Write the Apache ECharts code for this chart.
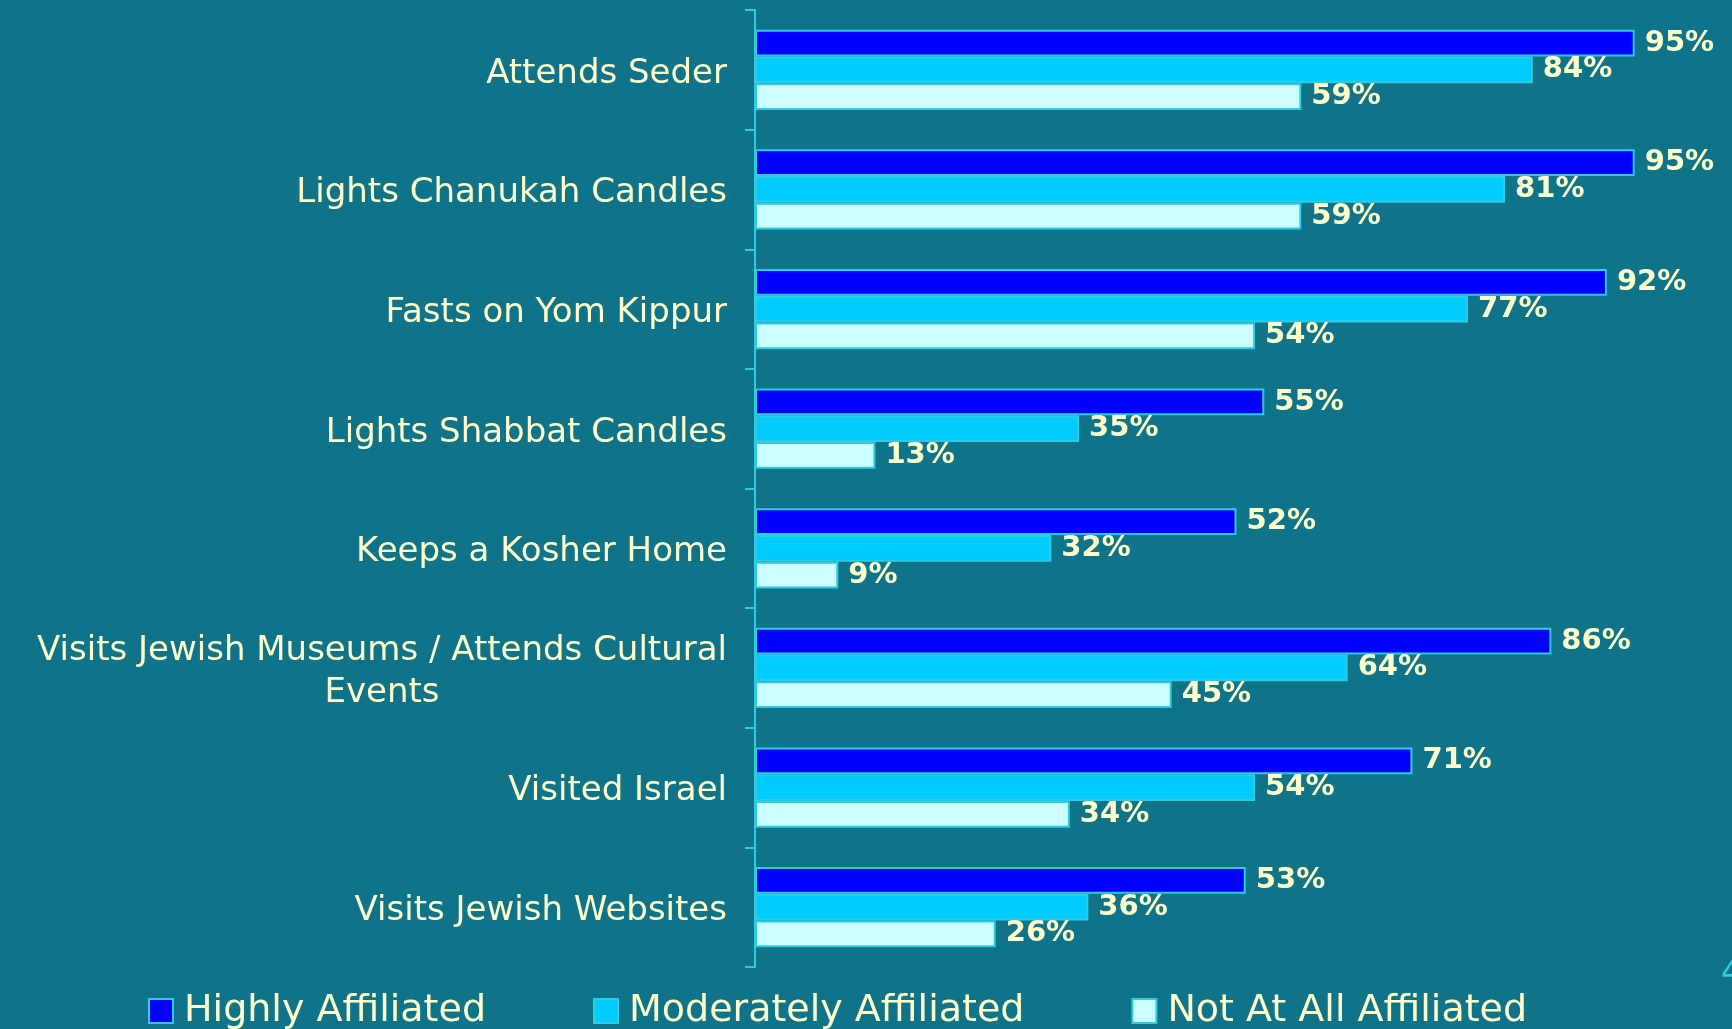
<!DOCTYPE html>
<html>
<head>
<meta charset="utf-8">
<script src="https://cdn.jsdelivr.net/npm/echarts@6/dist/echarts.min.js"></script>
<style>
  html, body { margin: 0; padding: 0; background: #0f7489; }
  #chart { width: 1732px; height: 1029px; }
</style>
</head>
<body>
<div id="chart"></div>
<script>
// categories, top to bottom
var categories = [
    'Attends Seder',
    'Lights Chanukah Candles',
    'Fasts on Yom Kippur',
    'Lights Shabbat Candles',
    'Keeps a Kosher Home',
    'Visits Jewish Museums / Attends Cultural Events',
    'Visited Israel',
    'Visits Jewish Websites'
];
var seriesNames = ['Highly Affiliated', 'Moderately Affiliated', 'Not At All Affiliated'];
var highly = [95, 95, 92, 55, 52, 86, 71, 53];
var moderately = [84, 81, 77, 35, 32, 64, 54, 36];
var notAtAll = [59, 59, 54, 13, 9, 45, 34, 26];

var txtColor = '#ffffcc';
var lineColor = '#2ecbe3';
var font = 'DejaVu Sans';

// break long category names onto two lines, centred
function wrapLabel(value) {
    if (value.length <= 40) return value;
    var words = value.split(' ');
    var lines = [], cur = '';
    words.forEach(function (w) {
        if ((cur + ' ' + w).trim().length > 40) { lines.push(cur); cur = w; }
        else cur = (cur + ' ' + w).trim();
    });
    lines.push(cur);
    return lines.map(function (l) { return '{c|' + l + '}'; }).join('\n');
}

function makeSeries(name, data, color) {
    return {
        name: name,
        type: 'bar',
        data: data,
        barGap: '0%',
        barCategoryGap: '33%',
        itemStyle: { color: color, borderColor: lineColor, borderWidth: 2 },
        label: {
            show: true,
            position: 'right',
            distance: 10,
            formatter: '{c}%',
            color: txtColor,
            fontFamily: font,
            fontWeight: 'bold',
            fontSize: 29
        }
    };
}

var chart = echarts.init(document.getElementById('chart'));
var option = {
    backgroundColor: '#0f7489',
    animation: false,
    grid: { left: 755, right: 51, top: 10, bottom: 62 },
    legend: {
        data: seriesNames,
        left: 148,
        top: 992,
        padding: 0,
        itemWidth: 24,
        itemHeight: 24,
        itemGap: 107,
        icon: 'rect',
        textStyle: { color: txtColor, fontFamily: font, fontSize: 38, padding: [0, 0, 0, 6] }
    },
    xAxis: {
        type: 'value',
        min: 0,
        max: 100,
        show: false,
        splitLine: { show: false }
    },
    yAxis: {
        type: 'category',
        inverse: true,
        data: categories,
        axisLine: { show: true, lineStyle: { color: lineColor, width: 2 } },
        axisTick: { show: true, length: 10, lineStyle: { color: lineColor, width: 2 } },
        axisLabel: {
            margin: 28,
            color: txtColor,
            fontFamily: font,
            fontSize: 34,
            lineHeight: 42,
            padding: [8, 0, 0, 0],
            formatter: wrapLabel,
            rich: {
                c: { color: txtColor, fontFamily: font, fontSize: 34, lineHeight: 42, align: 'center' }
            }
        }
    },
    graphic: [{
        type: 'text',
        left: 1721,
        top: 958,
        style: { text: '4', fill: lineColor, font: '32px DejaVu Sans' }
    }],
    series: [
        makeSeries(seriesNames[0], highly, '#0000ff'),
        makeSeries(seriesNames[1], moderately, '#00ccff'),
        makeSeries(seriesNames[2], notAtAll, '#ccffff')
    ]
};
chart.setOption(option, true);
</script>
</body>
</html>
